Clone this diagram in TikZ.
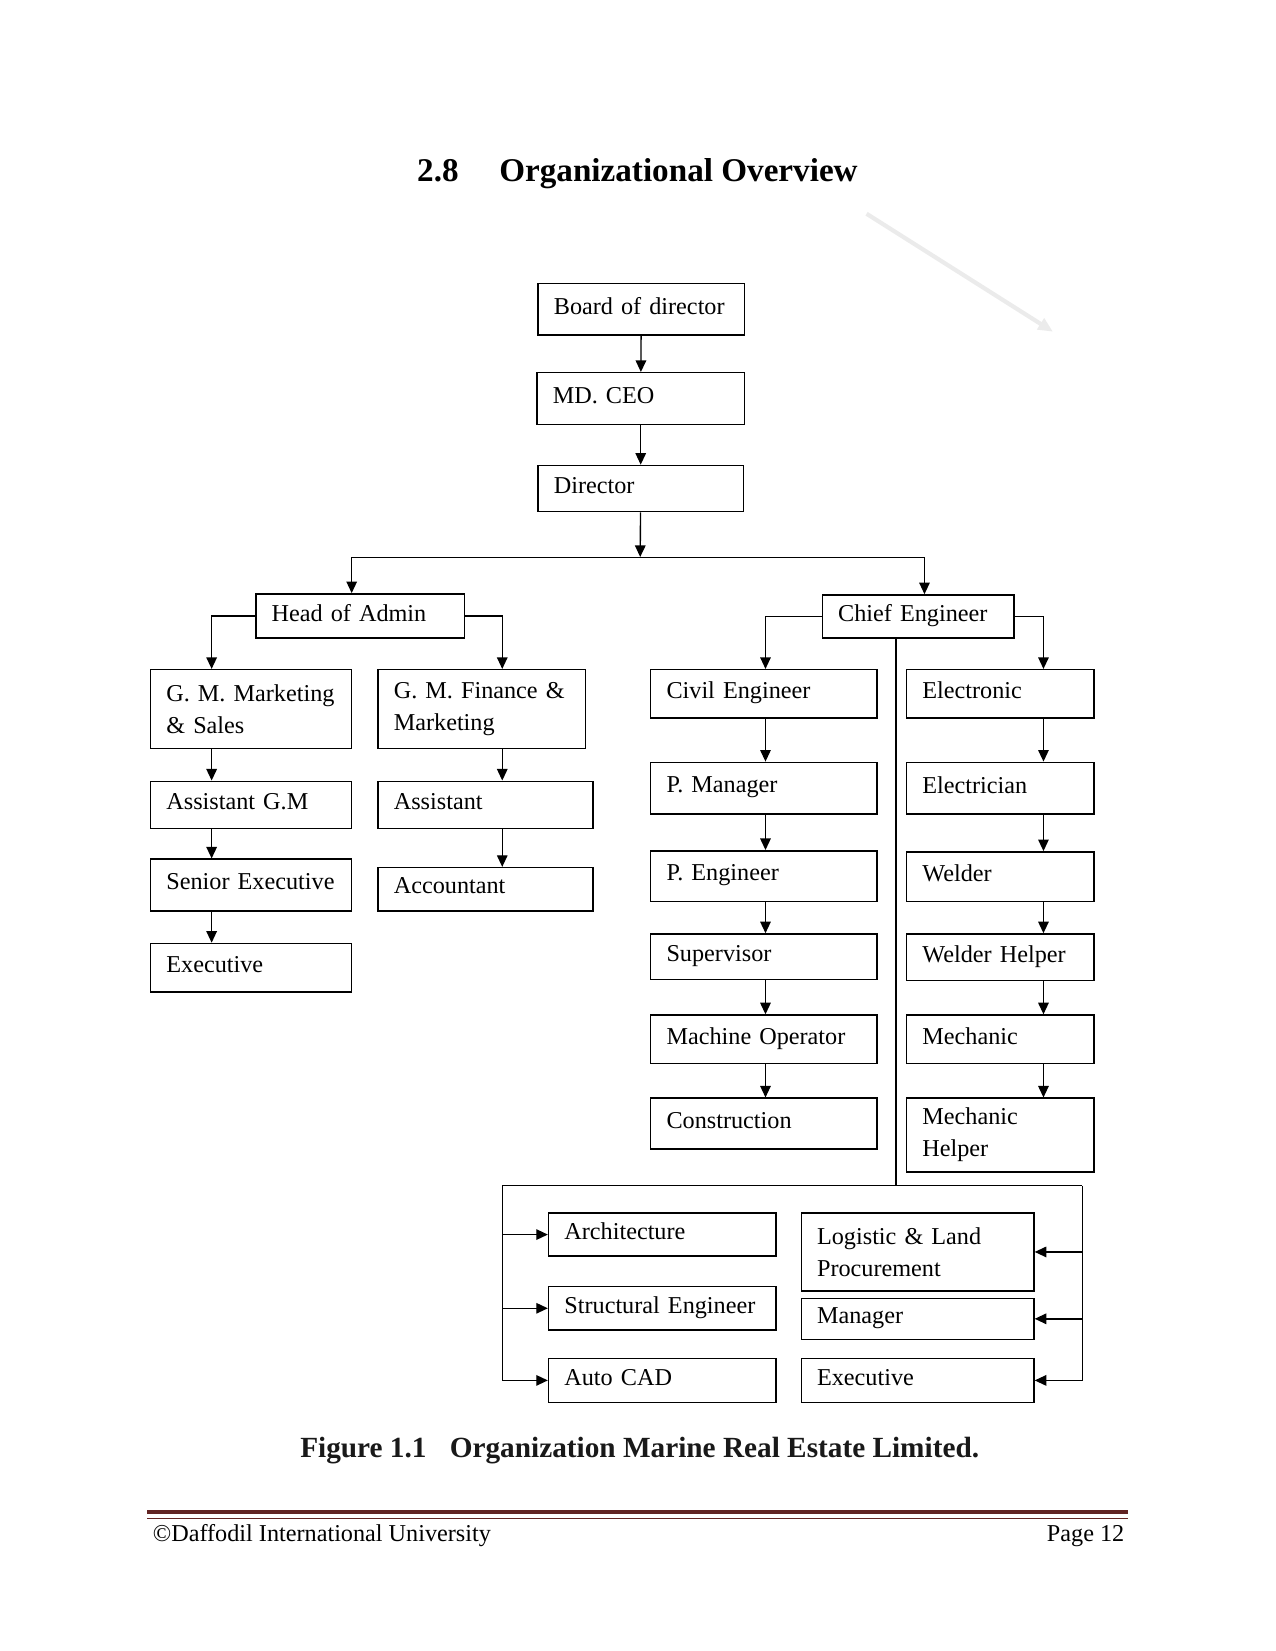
\documentclass[tikz,border=0pt]{standalone}
\usepackage{fontspec}
\setmainfont{Liberation Serif}
\usetikzlibrary{arrows.meta,calc}
\definecolor{footred}{HTML}{622423}
\definecolor{faint}{HTML}{EBEBEB}
\newcommand\orgbox[7][oneline]{%
  \pgfmathsetmacro\obw{#5-#3}\pgfmathsetmacro\obh{#6-#4}\pgfmathsetmacro\otw{#5-#3-30}%
  \node[obox, #1, minimum width=\obw pt, minimum height=\obh pt, text width=\otw pt] (#2) at ({#3+\obw/2},{#4+\obh/2}) {#7};}
\begin{document}
\begin{tikzpicture}[x=1pt,y=-1pt,
  obox/.style={draw, line width=1.4pt, align=left, inner xsep=15pt, inner ysep=1pt, font=\fontsize{23}{30.5}\selectfont},
  oneline/.style={text depth=6.5pt},
  twoline/.style={},
  arr/.style={line width=1.3pt, -{Triangle[length=11pt,width=10pt]}},
  ln/.style={line width=1.3pt},
  thinln/.style={line width=0.9pt},
  ttl/.style={inner sep=0pt, font=\fontsize{31.5}{36}\selectfont\bfseries},
  captxt/.style={inner sep=0pt, text=black!90, font=\fontsize{27.8}{32}\selectfont\bfseries},
  foot/.style={inner sep=0pt, font=\fontsize{23}{26}\selectfont},
]
\useasboundingbox (0,0) rectangle (1211,1568);

% title
\node[ttl, anchor=base west] (secnum) at (396,172) {2.8};
\node[ttl, anchor=base west] (sectitle) at (474,172) {Organizational Overview};

% faint stray arrow
\coordinate (fa1) at (823,203);
\coordinate (fa2) at (1000,315);
\draw[faint, line width=4pt, -{Triangle[length=14pt,width=12pt]}] (fa1) -- (fa2);

% top chain
\orgbox{board}{511}{269}{707}{318}{\mbox{Board of director}}
\orgbox{md}{510}{354}{707}{403}{MD. CEO}
\orgbox{dir}{511}{442}{706}{486}{Director}

% second level
\orgbox{hoa}{243}{564}{441}{606}{\mbox{Head of Admin}}
\orgbox{ce}{781}{565}{963}{606}{\mbox{Chief Engineer}}

% admin columns
\orgbox[twoline]{gmm}{143}{636}{334}{711}{\mbox{G. M. Marketing}\\ \mbox{\& Sales}}
\orgbox{agm}{143}{742}{334}{787}{\mbox{Assistant G.M}}
\orgbox{sen}{143}{816}{334}{865}{\mbox{Senior Executive}}
\orgbox{exl}{143}{896}{334}{942}{Executive}

\orgbox[twoline]{gmf}{359}{636}{556}{711}{\mbox{G. M. Finance \&}\\ \mbox{Marketing}}
\orgbox{ast}{359}{742}{563}{787}{Assistant}
\orgbox{acc}{359}{824}{563}{865}{Accountant}

% engineering columns
\orgbox{civ}{618}{636}{833}{682}{\mbox{Civil Engineer}}
\orgbox{pm}{618}{724}{833}{773}{\mbox{P. Manager}}
\orgbox{pe}{618}{808}{833}{856}{\mbox{P. Engineer}}
\orgbox{sup}{618}{887}{833}{930}{Supervisor}
\orgbox{mop}{618}{964}{833}{1010}{\mbox{Machine Operator}}
\orgbox{con}{618}{1043}{833}{1091}{Construction}

\orgbox{elo}{861}{636}{1039}{682}{Electronic}
\orgbox{ela}{861}{724}{1039}{773}{Electrician}
\orgbox{wel}{861}{809}{1039}{856}{Welder}
\orgbox{weh}{861}{887}{1039}{931}{\mbox{Welder Helper}}
\orgbox{mec}{861}{964}{1039}{1010}{Mechanic}
\orgbox[twoline]{meh}{861}{1043}{1039}{1113}{Mechanic\\ Helper}

% bottom group
\orgbox{arch}{521}{1152}{737}{1193}{Architecture}
\orgbox{str}{521}{1222}{737}{1263}{\mbox{Structural Engineer}}
\orgbox{cad}{521}{1290}{737}{1332}{\mbox{Auto CAD}}
\orgbox[twoline]{log}{761}{1152}{982}{1226}{\mbox{Logistic \& Land}\\ Procurement}
\orgbox{man}{761}{1233}{982}{1272}{Manager}
\orgbox{exb}{761}{1290}{982}{1332}{Executive}

% helper coordinates
\coordinate (hub) at (608,529);
\coordinate (hl) at (334,529);
\coordinate (hr) at (878,529);
\coordinate (lx) at (201,0);
\coordinate (fx) at (477,0);
\coordinate (cx) at (727,0);
\coordinate (ex) at (991,0);
\coordinate (vx) at (851,0);
\coordinate (ftl) at (477,1126);
\coordinate (ftr) at (1028,1126);

% top connectors
\draw[arr] (board) -- (md);
\draw[arr] (md) -- (dir);
\draw[arr] (dir) -- (hub);
\draw[thinln] (hl) -- (hr);
\draw[arr] (hl) -- (hl |- hoa.north);
\draw[arr] (hr) -- (hr |- ce.north);

% admin branches
\draw[arr] (hoa.west) -| (lx |- gmm.north);
\draw[arr] (hoa.east) -| (fx |- gmf.north);
\draw[arr] (lx |- gmm.south) -- (lx |- agm.north);
\draw[arr] (lx |- agm.south) -- (lx |- sen.north);
\draw[arr] (lx |- sen.south) -- (lx |- exl.north);
\draw[arr] (fx |- gmf.south) -- (fx |- ast.north);
\draw[arr] (fx |- ast.south) -- (fx |- acc.north);

% engineering branches
\draw[arr] (ce.west) -| (cx |- civ.north);
\draw[arr] (ce.east) -| (ex |- elo.north);
\draw[arr] (cx |- civ.south) -- (cx |- pm.north);
\draw[arr] (cx |- pm.south) -- (cx |- pe.north);
\draw[arr] (cx |- pe.south) -- (cx |- sup.north);
\draw[arr] (cx |- sup.south) -- (cx |- mop.north);
\draw[arr] (cx |- mop.south) -- (cx |- con.north);
\draw[arr] (ex |- elo.south) -- (ex |- ela.north);
\draw[arr] (ex |- ela.south) -- (ex |- wel.north);
\draw[arr] (ex |- wel.south) -- (ex |- weh.north);
\draw[arr] (ex |- weh.south) -- (ex |- mec.north);
\draw[arr] (ex |- mec.south) -- (ex |- meh.north);

% chief engineer trunk and bottom frame
\draw[ln] (vx |- ce.south) -- (vx |- ftl);
\draw[ln] (ftl) -- (ftr);
\draw[arr] (ftl) |- (cad.west);
\draw[arr] (ftl |- arch.west) -- (arch.west);
\draw[arr] (ftl |- str.west) -- (str.west);
\draw[arr] (ftr) |- (exb.east);
\draw[arr] (ftr |- log.east) -- (log.east);
\draw[arr] (ftr |- man.east) -- (man.east);

% caption
\node[captxt, anchor=base west] (capnum) at (285,1384) {Figure 1.1};
\node[captxt, anchor=base west] (captext) at (427,1384) {Organization Marine Real Estate Limited.};

% footer
\coordinate (f1) at (140,1436);
\coordinate (f2) at (1071,1436);
\coordinate (f3) at (140,1442);
\coordinate (f4) at (1071,1442);
\draw[footred, line width=4pt] (f1) -- (f2);
\draw[footred, line width=1.2pt] (f3) -- (f4);
\node[foot, anchor=base west] (footl) at (145,1464) {©Daffodil International University};
\node[foot, anchor=base east] (footr) at (1068,1464) {Page 12};
\end{tikzpicture}
\end{document}
